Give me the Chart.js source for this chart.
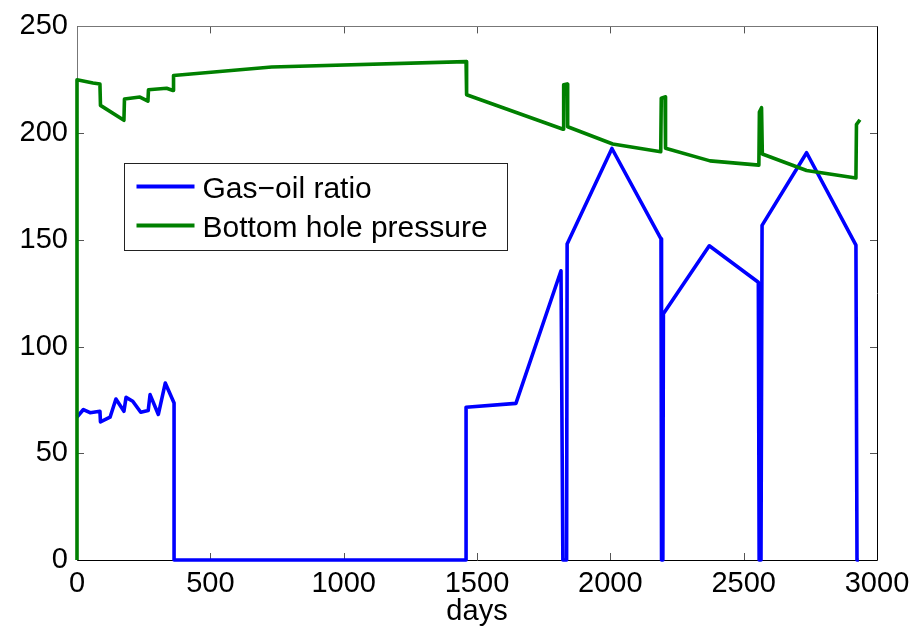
<!DOCTYPE html>
<html>
<head>
<meta charset="utf-8">
<script src="https://cdn.jsdelivr.net/npm/chart.js@4/dist/chart.umd.min.js"></script>
<style>
  html, body { margin: 0; padding: 0; background: #fff; }
</style>
</head>
<body>
<canvas id="myChart" width="924" height="632"></canvas>
<script>
// gas-oil ratio
var gorDays = [0, 24, 49, 86, 88, 124, 146, 176, 184, 209, 239, 267, 274, 305, 331, 364, 364,
	1459, 1459, 1646, 1815, 1822, 1836, 1838, 2006, 2190, 2192, 2197, 2199, 2371, 2555, 2558,
	2565, 2569, 2736, 2921, 2925, 2932];
var gorValues = [67, 70.5, 69, 69.7, 64.7, 66.9, 75.4, 69.7, 76.2, 74.4, 69.2, 70, 77.5, 68.2, 82.9, 73.6, 0,
	0, 71.6, 73.4, 135.5, 0, 0, 148, 192.8, 150.5, 0, 0, 115.4, 147.2, 130.1, 0,
	0, 156.8, 190.8, 147.5, 0, 0];

// bottom hole pressure
var bhpDays = [0, 0, 60, 86, 88, 176, 178, 236, 266, 268, 336, 360, 362, 730, 1459, 1461,
	1823, 1825, 1838, 1840, 2009, 2189, 2191, 2205, 2207, 2374, 2557, 2559, 2567, 2570,
	2736, 2921, 2923, 2936];
var bhpValues = [0, 225, 223.5, 223, 213, 206, 216, 216.9, 215, 220.3, 221, 220, 227, 231, 233.5, 218,
	201.8, 222.7, 223, 203, 194.9, 191.3, 216.4, 217, 192.9, 187, 185, 209.9, 211.9, 190.2,
	182.5, 179, 204, 206.3];

var xTicks = [0, 500, 1000, 1500, 2000, 2500, 3000];
var yTicks = [0, 50, 100, 150, 200, 250];

function toPoints(xs, ys) {
	var pts = [];
	for (var i = 0; i < xs.length; i++) {
		pts.push({ x: xs[i], y: ys[i] });
	}
	return pts;
}

var fontFamily = "'Liberation Sans', Arial, Helvetica, sans-serif";

// box round the axes with inward ticks on all four sides
var boxTicks = {
	id: "boxTicks",
	beforeDatasetsDraw: function(chart) {
		var ctx = chart.ctx;
		var a = chart.chartArea;
		var xs = chart.scales.x, ys = chart.scales.y;
		var len = 7;
		ctx.save();
		ctx.lineWidth = 1;
		ctx.strokeStyle = "#555";
		ctx.beginPath();
		xTicks.forEach(function(v) {
			var px = Math.round(xs.getPixelForValue(v)) + 0.5;
			ctx.moveTo(px, a.bottom); ctx.lineTo(px, a.bottom - len);
			ctx.moveTo(px, a.top); ctx.lineTo(px, a.top + len);
		});
		yTicks.forEach(function(v) {
			var py = Math.round(ys.getPixelForValue(v)) + 0.5;
			ctx.moveTo(a.left, py); ctx.lineTo(a.left + len, py);
			ctx.moveTo(a.right, py); ctx.lineTo(a.right - len, py);
		});
		ctx.stroke();

		var l = Math.round(a.left) + 0.5, r = Math.round(a.right) + 0.5;
		var t = Math.round(a.top) + 0.5, b = Math.round(a.bottom) + 0.5;
		ctx.strokeStyle = "#777";
		ctx.beginPath();
		ctx.moveTo(l, b); ctx.lineTo(l, t); ctx.lineTo(r, t);
		ctx.stroke();
		ctx.strokeStyle = "#000";
		ctx.beginPath();
		ctx.moveTo(l, b); ctx.lineTo(r, b); ctx.lineTo(r, t);
		ctx.stroke();
		ctx.restore();
	}
};

// legend box inside the plot
var boxLegend = {
	id: "boxLegend",
	afterDatasetsDraw: function(chart) {
		var ctx = chart.ctx;
		var a = chart.chartArea;
		var x0 = Math.round(a.left + 47) + 0.5;
		var y0 = Math.round(a.top + 137) + 0.5;
		var w = 383, h = 87;
		ctx.save();
		ctx.fillStyle = "#fff";
		ctx.fillRect(x0, y0, w, h);
		ctx.strokeStyle = "#222";
		ctx.lineWidth = 1;
		ctx.strokeRect(x0, y0, w, h);
		ctx.font = "30px " + fontFamily;
		ctx.textBaseline = "alphabetic";
		ctx.textAlign = "left";
		chart.data.datasets.forEach(function(ds, i) {
			var ly = y0 + 23 + i * 39;
			ctx.strokeStyle = ds.borderColor;
			ctx.lineWidth = 4;
			ctx.beginPath();
			ctx.moveTo(x0 + 12, ly);
			ctx.lineTo(x0 + 70, ly);
			ctx.stroke();
			ctx.fillStyle = "#000";
			ctx.fillText(ds.label, x0 + 78, ly + 11);
		});
		ctx.restore();
	}
};

var ctx = document.getElementById("myChart");

var myChart = new Chart(ctx, {
	type: "line",
	data: {
		datasets: [
			{
				label: "Gas\u2212oil ratio",
				data: toPoints(gorDays, gorValues),
				borderColor: "#0000ff",
				borderWidth: 3.6,
				pointRadius: 0,
				tension: 0,
				fill: false,
				borderJoinStyle: "round",
				clip: 4,
				order: 1
			},
			{
				label: "Bottom hole pressure",
				data: toPoints(bhpDays, bhpValues),
				borderColor: "#008000",
				borderWidth: 3.6,
				pointRadius: 0,
				tension: 0,
				fill: false,
				borderJoinStyle: "round",
				clip: 4,
				order: 0
			}
		]
	},
	options: {
		responsive: false,
		animation: false,
		devicePixelRatio: 1,
		layout: { padding: { left: 0, right: 47, top: 22, bottom: 0 } },
		plugins: {
			legend: { display: false },
			tooltip: { enabled: false }
		},
		scales: {
			x: {
				type: "linear",
				min: 0,
				max: 3000,
				afterBuildTicks: function(scale) {
					scale.ticks = xTicks.map(function(v) { return { value: v }; });
				},
				afterFit: function(scale) { scale.height = 72; },
				grid: { display: false, drawTicks: false },
				border: { display: false },
				ticks: {
					padding: 7,
					color: "#000",
					maxRotation: 0,
					callback: function(v) { return String(v); },
					font: { family: fontFamily, size: 29 }
				},
				title: {
					display: true,
					text: "days",
					color: "#000",
					padding: { top: 0, bottom: 3 },
					font: { family: fontFamily, size: 29 }
				}
			},
			y: {
				min: 0,
				max: 250,
				afterBuildTicks: function(scale) {
					scale.ticks = yTicks.map(function(v) { return { value: v }; });
				},
				afterFit: function(scale) { scale.width = 77; },
				grid: { display: false, drawTicks: false },
				border: { display: false },
				ticks: {
					padding: 9,
					color: "#000",
					callback: function(v) { return String(v); },
					font: { family: fontFamily, size: 29 }
				}
			}
		}
	},
	plugins: [boxTicks, boxLegend]
});
</script>
</body>
</html>
